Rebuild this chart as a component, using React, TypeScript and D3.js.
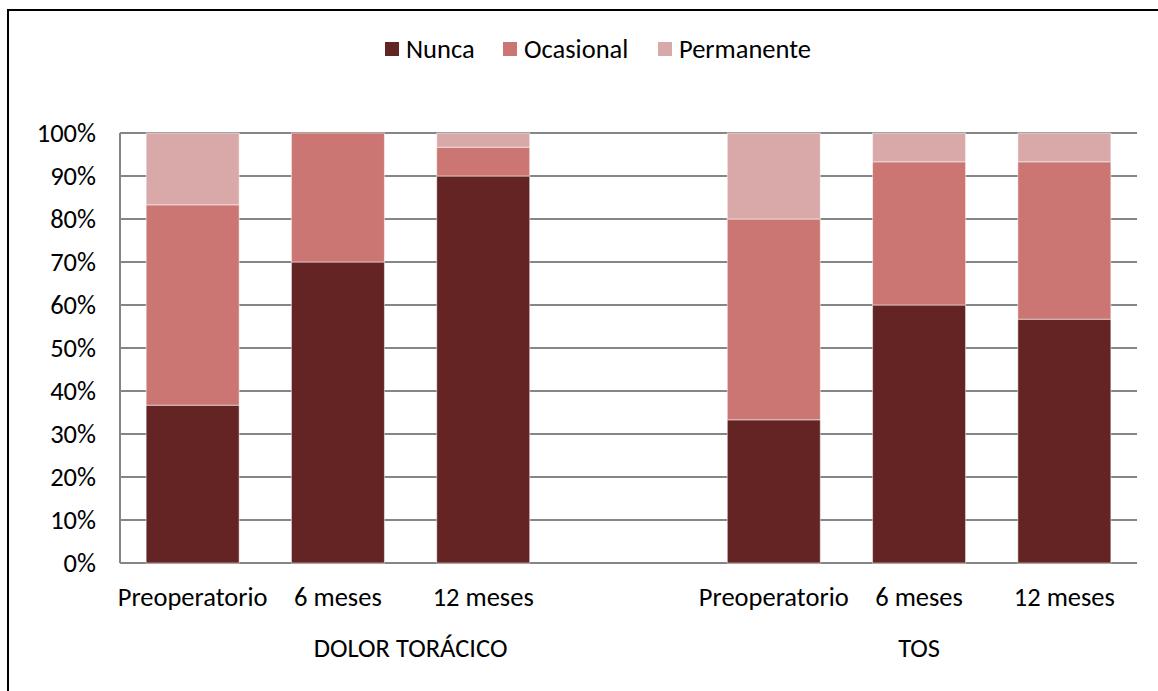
import React from "react";
import * as d3 from "d3";

// Categories: two groups of three time points, with an empty slot between groups
const categories = ["Preoperatorio", "6 meses", "12 meses", "", "Preoperatorio ", "6 meses ", "12 meses "];
const groups = [
  { label: "DOLOR TORÁCICO", from: 0, to: 3 },
  { label: "TOS", from: 4, to: 6 },
];
const seriesNames = ["Nunca", "Ocasional", "Permanente"];
const colors = ["#632423", "#CB7673", "#D9A9A9"];

// Percent values per category (null = empty slot)
const nunca = [36.7, 70, 90, null, 33.3, 60, 56.7];
const ocasional = [46.6, 30, 6.7, null, 46.7, 33.3, 36.6];
const permanente = [16.7, 0, 3.3, null, 20, 6.7, 6.7];
const yTicks = [0, 10, 20, 30, 40, 50, 60, 70, 80, 90, 100];

const W = 1158;
const H = 691;
const font = "Carlito, Lato, 'Liberation Sans', sans-serif";
const fs = 26.5;

export default function App() {
  const left = 120;
  const right = 1137;
  const top = 133;
  const bottom = 563;

  const x = d3.scaleBand<string>().domain(categories).range([left, right]).paddingInner(0.36).paddingOuter(0.18);
  const y = d3.scaleLinear().domain([0, 100]).range([bottom, top]);

  const rows = categories.map((c, i) => ({
    cat: c,
    Nunca: nunca[i] ?? 0,
    Ocasional: ocasional[i] ?? 0,
    Permanente: permanente[i] ?? 0,
    empty: nunca[i] === null,
  }));
  const stacked = d3.stack<any>().keys(seriesNames)(rows);

  const centerOf = (i: number) => (x(categories[i]) as number) + x.bandwidth() / 2;

  const legendItems = [
    { name: "Nunca", sx: 385, tx: 406 },
    { name: "Ocasional", sx: 503, tx: 524 },
    { name: "Permanente", sx: 658, tx: 679 },
  ];

  return (
    <svg width={W} height={H} style={{ position: "absolute", left: 0, top: 0, background: "#fff" }}>
      <rect x={0} y={0} width={W} height={H} fill="#fff" />
      {/* outer frame */}
      <rect x={8} y={10} width={W} height={H} fill="none" stroke="#000" strokeWidth={2} />

      {/* gridlines */}
      {yTicks.map((t) => (
        <line key={t} x1={left} x2={right} y1={y(t)} y2={y(t)} stroke="#868686" strokeWidth={2} />
      ))}
      <line x1={left} x2={left} y1={top} y2={bottom} stroke="#868686" strokeWidth={2} />

      {/* y tick labels */}
      {yTicks.map((t) => (
        <text key={t} x={96} y={y(t)} dy="0.35em" textAnchor="end" fontFamily={font} fontSize={fs} fill="#000">
          {t}%
        </text>
      ))}

      {/* stacked bars */}
      {stacked.map((s, si) => (
        <g key={s.key} fill={colors[si]}>
          {s.map((d, i) =>
            rows[i].empty || d[1] - d[0] <= 0 ? null : (
              <rect
                key={i}
                x={x(categories[i])}
                width={x.bandwidth()}
                y={y(d[1])}
                height={y(d[0]) - y(d[1])}
                stroke="#fff"
                strokeOpacity={0.5}
                strokeWidth={1}
              />
            )
          )}
        </g>
      ))}

      {/* category labels */}
      {categories.map((c, i) =>
        c.trim() === "" ? null : (
          <text key={i} x={centerOf(i)} y={606} textAnchor="middle" fontFamily={font} fontSize={fs} fill="#000">
            {c.trim()}
          </text>
        )
      )}

      {/* group labels */}
      {groups.map((g) => (
        <text
          key={g.label}
          x={(centerOf(g.from) + centerOf(g.to)) / 2}
          y={657}
          textAnchor="middle"
          fontFamily={font}
          fontSize={fs}
          fill="#000"
        >
          {g.label}
        </text>
      ))}

      {/* legend */}
      {legendItems.map((l, i) => (
        <g key={l.name}>
          <rect x={l.sx} y={42} width={14} height={14} fill={colors[i]} />
          <text x={l.tx} y={49} dy="0.35em" fontFamily={font} fontSize={fs} fill="#000">
            {l.name}
          </text>
        </g>
      ))}
    </svg>
  );
}
